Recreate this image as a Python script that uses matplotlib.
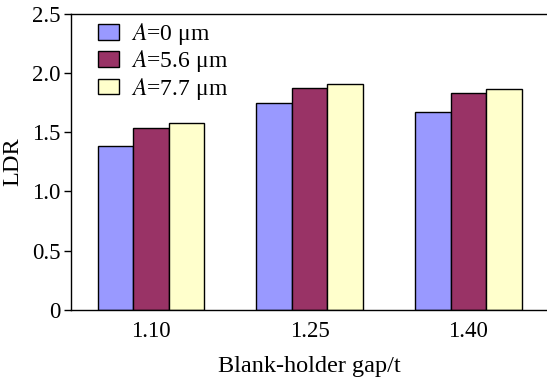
import matplotlib
matplotlib.use('Agg')
import matplotlib.pyplot as plt
import numpy as np

gaps = ['1.10', '1.25', '1.40']
labels = [r'$A$=0 μm', r'$A$=5.6 μm', r'$A$=7.7 μm']
ldr_a0 = [1.38, 1.75, 1.67]
ldr_a56 = [1.535, 1.87, 1.83]
ldr_a77 = [1.575, 1.91, 1.865]
colors = ['#9999FF', '#993366', '#FFFFCC']

plt.rcParams['font.family'] = ['Liberation Serif', 'DejaVu Serif']
plt.rcParams['mathtext.fontset'] = 'stix'

fig = plt.figure(figsize=(5.47, 3.79), dpi=100)
ax = fig.add_axes([0.1307, 0.182, 0.8705, 0.782])

x = np.arange(len(gaps))
w = 0.224
for i, (vals, c) in enumerate(zip([ldr_a0, ldr_a56, ldr_a77], colors)):
    ax.bar(x + (i - 1) * w, vals, w, color=c, edgecolor='black', linewidth=1.0, label=labels[i])

ax.set_xlim(-0.5, 2.5)
ax.set_ylim(0, 2.5)
ax.set_xticks(x)
ax.set_xticklabels(gaps)
ax.set_yticks(np.arange(0, 2.51, 0.5))
ax.set_yticklabels(['0', '0.5', '1.0', '1.5', '2.0', '2.5'])
ax.tick_params(axis='x', length=0, labelsize=16.5, pad=8)
ax.tick_params(axis='y', length=5, width=1, direction='out', labelsize=16.5, pad=3)
for s in ax.spines.values():
    s.set_linewidth(1.0)

ax.set_xlabel('Blank-holder gap/t', fontsize=17.5, labelpad=10)
ax.set_ylabel('LDR', fontsize=17.5, labelpad=6)

ax.legend(loc='upper left', bbox_to_anchor=(0.02, 1.03), frameon=False, fontsize=17,
          handlelength=0.9, handleheight=0.62, handletextpad=0.5, labelspacing=0.05,
          borderaxespad=0.3)

fig.savefig('out.png', dpi=100)
